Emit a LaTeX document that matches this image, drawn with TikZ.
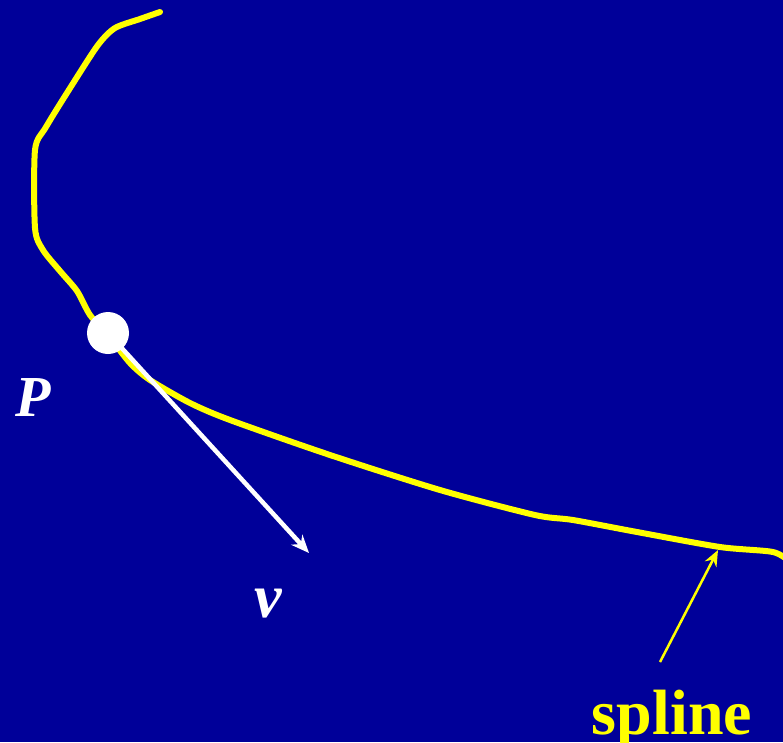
\documentclass[tikz,border=0pt]{standalone}
\usepackage{fontspec}
\setmainfont{Liberation Serif}
\usetikzlibrary{arrows.meta}
\definecolor{slidebg}{RGB}{0,0,153}
\definecolor{splineyellow}{RGB}{255,255,0}

\begin{document}
\begin{tikzpicture}[
    x=1pt, y=-1pt,
    curve/.style={draw=splineyellow, line width=6pt, line cap=round, line join=round},
    point/.style={circle, fill=white, minimum size=42pt, inner sep=0pt},
    vector/.style={draw=white, line width=4.5pt, -{Stealth[length=18pt, width=15pt]}},
    pointer/.style={draw=splineyellow, line width=2.5pt, -{Stealth[length=16pt, width=13pt]}},
    label/.style={font=\fontsize{#1}{#1}\selectfont\bfseries\itshape, text=white, anchor=base}
  ]
    % Background
    \fill[slidebg] (0,0) rectangle (783,742);
    \useasboundingbox (0,0) rectangle (783,742);

    % The spline curve
    \draw[curve] plot[smooth, tension=0.45] coordinates {
      (160,12) (140,19) (115,28) (98,45) (72,85) (46,127) (35,150)
      (35,228) (43,250) (60,271) (77,291) (90,315) (108,335) (130,363)
      (150,380) (190,403) (230,420) (330,455) (440,490) (535,515)
      (573,520) (637,532) (720,547) (773,552) (790,562)};

    % Point P and tangent vector v
    \node[point] (dotP) at (108,333) {};
    \coordinate (vtip) at (309,553);
    \draw[vector] (dotP.center) -- (vtip);

    % Labels
    \node[label=58] (labP) at (33,416) {P};
    \node[label=62] (labv) at (268,617) {v};

    % Spline pointer
    \coordinate (ontail) at (660,662);
    \coordinate (oncurve) at (718,550);
    \draw[pointer] (ontail) -- (oncurve);
    \node[font=\fontsize{64}{64}\selectfont\bfseries, text=splineyellow, anchor=base]
      (labspline) at (672,734) {spline};
  \end{tikzpicture}
\end{document}
